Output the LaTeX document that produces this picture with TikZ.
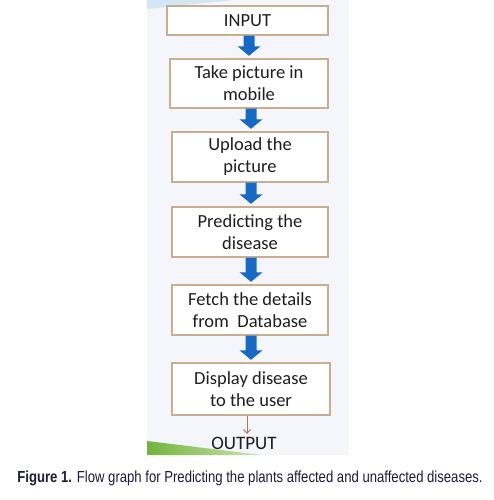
\documentclass[tikz,border=0pt]{standalone}
\usepackage{fontspec}
\setmainfont{Carlito}
\newfontfamily\capfont[FakeStretch=0.82]{Liberation Sans}
\usetikzlibrary{arrows.meta,calc}
\definecolor{panelbg}{HTML}{F4F6FC}
\definecolor{boxline}{HTML}{C9AD8C}
\definecolor{arrowblue}{HTML}{1769C4}
\definecolor{txt}{HTML}{1E1E1E}
\definecolor{captxt}{HTML}{1C1C3A}
\definecolor{brownarr}{HTML}{B0764A}
\definecolor{streak}{HTML}{D3E6F4}
\definecolor{greenA}{HTML}{72B43C}
\definecolor{greenB}{HTML}{CDE6B0}
\tikzset{
  stepbox/.style={draw=boxline, line width=1.4pt, fill=white, align=center,
    text=txt, font=\fontsize{18.5}{22}\selectfont, inner sep=0pt},
  blockarrow/.style={fill=arrowblue, draw=none}
}
% block arrow from bottom of node #1 to top of node #2, centred at x=#3
\newcommand\myblockarrow[3]{%
  \fill[blockarrow] ($(#1.south -| #3,0)+(-5.5,0)$) -- ($(#2.north -| #3,0)+(-5.5,-12)$)
    -- ($(#2.north -| #3,0)+(-11.5,-12)$) -- ($(#2.north -| #3,0)+(0,-2.5)$)
    -- ($(#2.north -| #3,0)+(11.5,-12)$) -- ($(#2.north -| #3,0)+(5.5,-12)$)
    -- ($(#1.south -| #3,0)+(5.5,0)$) -- cycle;}
\begin{document}
\begin{tikzpicture}[x=1pt,y=-1pt]
\useasboundingbox (0,0) rectangle (494,500);
\fill[white] (0,0) rectangle (494,500);
\fill[panelbg] (147,0) rectangle (349,455);
\fill[streak] (147,0) -- (147,9) -- (195,4) -- (235,0) -- cycle;
\shade[left color=greenA, right color=greenB]
  (147,441) -- (262,455) -- (147,455) -- cycle;

\node[stepbox, minimum width=161pt, minimum height=29pt] (in) at (247.5,20.5) {INPUT};
\node[stepbox, minimum width=158pt, minimum height=49pt] (take) at (249,83.5) {Take picture in\\mobile};
\node[stepbox, minimum width=156pt, minimum height=50pt] (up) at (250,157) {Upload the\\picture};
\node[stepbox, minimum width=156pt, minimum height=50pt] (pred) at (250,232) {Predicting the\\disease};
\node[stepbox, minimum width=156pt, minimum height=50pt] (fetch) at (250,310) {Fetch the details\\from~ Database};
\node[stepbox, minimum width=158pt, minimum height=52pt] (disp) at (251,389) {Display disease\\to the user};
\node[text=txt, font=\fontsize{19}{22}\selectfont, inner sep=0pt] (out) at (244,443) {OUTPUT};

\myblockarrow{in}{take}{249}
\myblockarrow{take}{up}{251}
\myblockarrow{up}{pred}{251}
\myblockarrow{pred}{fetch}{251}
\myblockarrow{fetch}{disp}{251}

\coordinate (oa) at (247,434);
\draw[brownarr, line width=0.9pt, -{Straight Barb[length=4pt,width=7pt]}] (disp.south -| 247,0) -- (oa);

\node[text=captxt, inner sep=0pt, font=\capfont\fontsize{16}{19}\selectfont] (cap) at (250,478)
  {\textbf{Figure 1.} Flow graph for Predicting the plants affected and unaffected diseases.};
\end{tikzpicture}
\end{document}
